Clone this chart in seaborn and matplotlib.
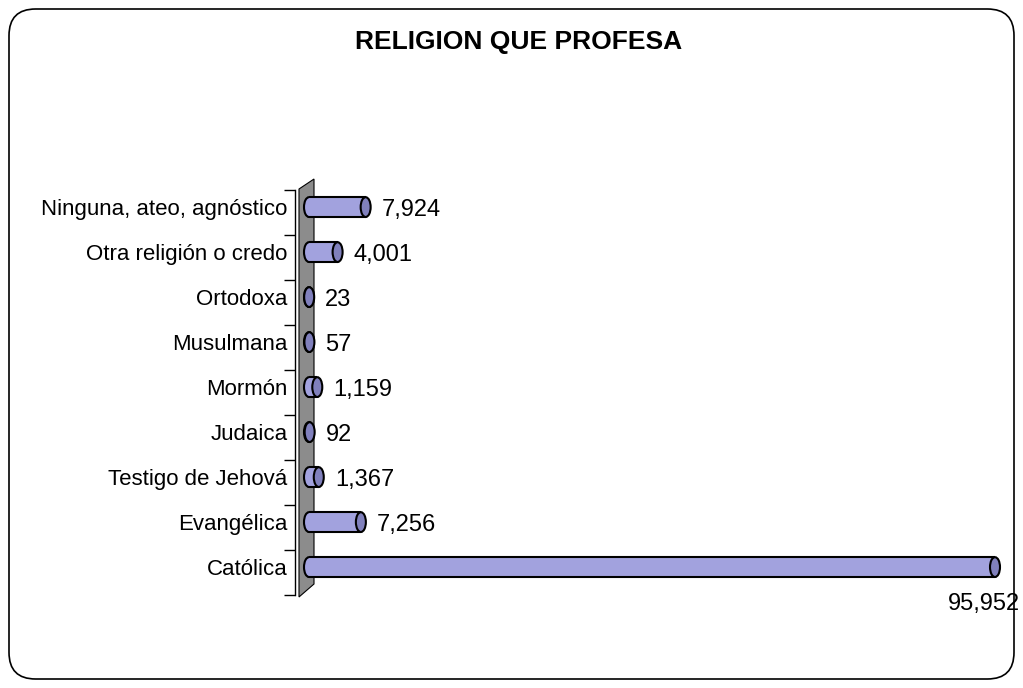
import matplotlib
matplotlib.use("Agg")
import matplotlib.pyplot as plt
import seaborn as sns
import pandas as pd
from matplotlib.patches import Ellipse, Polygon, FancyBboxPatch

categorias = ['Ninguna, ateo, agnóstico', 'Otra religión o credo', 'Ortodoxa',
              'Musulmana', 'Mormón', 'Judaica', 'Testigo de Jehová',
              'Evangélica', 'Católica']
valores = [7924, 4001, 23, 57, 1159, 92, 1367, 7256, 95952]
etiquetas = ['7,924', '4,001', '23', '57', '1,159', '92', '1,367', '7,256', '95,952']

df = pd.DataFrame({'Religion': categorias, 'Total': valores})

sns.set_style('white')
plt.rcParams['font.family'] = ['Liberation Sans', 'DejaVu Sans']
plt.rcParams['text.color'] = 'black'
plt.rcParams['ytick.color'] = 'black'
plt.rcParams['axes.edgecolor'] = 'black'

color_barra = '#a2a2de'
color_tapa = '#8080bc'

W, H = 1023, 688
fig = plt.figure(figsize=(W / 100, H / 100), dpi=100)

# marco redondeado
fig.patches.append(FancyBboxPatch((9 / W, 9 / H), (W - 18) / W, (H - 18) / H,
                                  boxstyle='round,pad=0,rounding_size=0.026',
                                  transform=fig.transFigure, fill=False,
                                  edgecolor='black', linewidth=1.2,
                                  mutation_aspect=W / H))

# pared gris del eje
pared = [(299, 597), (299, 189), (314, 179), (314, 584)]
fig.patches.append(Polygon([(x / W, 1 - y / H) for x, y in pared], closed=True,
                           transform=fig.transFigure, facecolor='#8c8c8c',
                           edgecolor='black', linewidth=0.8, zorder=0))

left, right, top, bottom = 309, 1000, 190, 595
ax = fig.add_axes([left / W, 1 - bottom / H, (right - left) / W, (bottom - top) / H])
ax.set_zorder(2)
ax.set_facecolor('none')

ancho = 0.44
sns.barplot(data=df, x='Total', y='Religion', ax=ax, color=color_barra,
            linewidth=0, width=ancho, saturation=1)
for p in ax.patches:
    p.set_zorder(4)

xmax = 95952 * (right - left) / (995 - left)
ax.set_xlim(0, xmax)
d = 0.12  # barras algo por encima del centro (efecto 3D)
n = len(categorias)
ax.set_ylim(n - 0.5 + d, -0.5 + d)

# contorno y extremos redondeados de los cilindros
px = xmax / (right - left)
for i, v in enumerate(valores):
    ax.hlines([i - ancho / 2, i + ancho / 2], 0, v, colors='black', linewidth=1.5, zorder=4.5)
    ax.add_patch(Ellipse((0, i), width=10 * px, height=ancho, facecolor=color_barra,
                         edgecolor='black', linewidth=1.5, zorder=3, clip_on=False))
    ax.add_patch(Ellipse((v, i), width=10 * px, height=ancho, facecolor=color_tapa,
                         edgecolor='black', linewidth=1.5, zorder=5, clip_on=False))
    if v == max(valores):
        ax.annotate(etiquetas[i], (v, i), xytext=(25, -37), textcoords='offset pixels',
                    ha='right', va='center', fontsize=17, annotation_clip=False)
    else:
        ax.annotate(etiquetas[i], (v, i), xytext=(16, -3), textcoords='offset pixels',
                    ha='left', va='center', fontsize=17)

for s in ['top', 'right', 'bottom']:
    ax.spines[s].set_visible(False)
ax.spines['left'].set_position(('outward', left - 299))
ax.spines['left'].set_linewidth(1.0)
ax.spines['left'].set_bounds(n - 0.5 + d, -0.5 + d)

ax.set_xticks([])
ax.set_yticks(range(n))
ax.set_yticks([i - 0.5 + d for i in range(n + 1)], minor=True)
ax.tick_params(axis='y', which='major', length=0, pad=5.5, labelsize=16)
ax.tick_params(axis='y', which='minor', length=8, width=1.0, direction='out', left=True)
ax.set_xlabel('')
ax.set_ylabel('')

fig.text(519 / W, 1 - 42 / H, 'RELIGION QUE PROFESA', ha='center', va='center',
         fontsize=19, fontweight='bold')

fig.savefig('out.png', dpi=100)
